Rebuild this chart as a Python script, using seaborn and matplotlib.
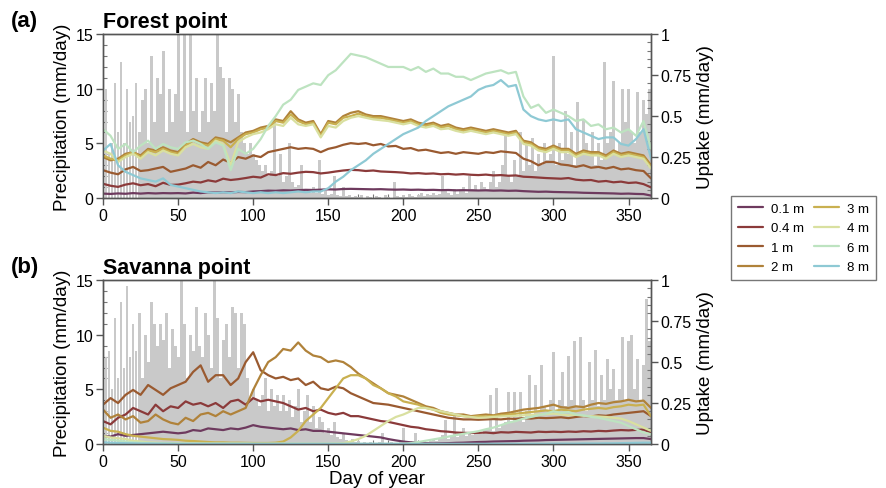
import numpy as np
import pandas as pd
import matplotlib
matplotlib.use("Agg")
import matplotlib.pyplot as plt
from matplotlib.lines import Line2D
from matplotlib.ticker import MultipleLocator, FuncFormatter
import seaborn as sns

# days for uptake series (every 5 days) and precipitation (every 2 days)
line_days = np.arange(0, 366, 5)
rain_days = np.arange(0, 365, 2)

depths = ["0.1 m", "0.4 m", "1 m", "2 m", "3 m", "4 m", "6 m", "8 m"]
depth_colors = ["#6e3a5e", "#8b3a3a", "#9a5a30", "#b0823a",
                "#c9b050", "#d9e0a0", "#bde3c0", "#8ec9d4"]

# ---- forest point: uptake (mm/day) ----
forest_01 = [0.027, 0.025, 0.028, 0.026, 0.03, 0.027, 0.03, 0.028, 0.03, 0.029,
             0.03, 0.028, 0.033, 0.03, 0.035, 0.033, 0.036, 0.034, 0.037, 0.036,
             0.04, 0.042, 0.045, 0.044, 0.047, 0.046, 0.048, 0.05, 0.049, 0.051,
             0.053, 0.052, 0.055, 0.056, 0.055, 0.054, 0.053, 0.054, 0.052, 0.051,
             0.052, 0.05, 0.051, 0.049, 0.05, 0.048, 0.049, 0.047, 0.048, 0.047,
             0.046, 0.047, 0.045, 0.046, 0.044, 0.045, 0.042, 0.04, 0.038, 0.039,
             0.037, 0.036, 0.035, 0.034, 0.032, 0.031, 0.03, 0.029, 0.028, 0.026,
             0.027, 0.025, 0.024, 0.015]
forest_04 = [0.087, 0.075, 0.068, 0.082, 0.09, 0.078, 0.085, 0.072, 0.093, 0.08,
             0.082, 0.09, 0.1, 0.095, 0.108, 0.1, 0.118, 0.11, 0.115, 0.122,
             0.13, 0.125, 0.145, 0.14, 0.152, 0.148, 0.155, 0.16, 0.158, 0.15,
             0.155, 0.162, 0.168, 0.172, 0.17, 0.165, 0.168, 0.162, 0.16, 0.158,
             0.155, 0.15, 0.152, 0.148, 0.15, 0.145, 0.147, 0.143, 0.146, 0.142,
             0.14, 0.143, 0.138, 0.14, 0.136, 0.138, 0.13, 0.128, 0.125, 0.122,
             0.12, 0.118, 0.122, 0.112, 0.108, 0.11, 0.1, 0.104, 0.096, 0.1,
             0.092, 0.095, 0.085, 0.065]
forest_1 = [0.17, 0.155, 0.145, 0.175, 0.19, 0.165, 0.17, 0.18, 0.19, 0.16,
            0.17, 0.18, 0.2, 0.185, 0.22, 0.2, 0.235, 0.215, 0.25, 0.24,
            0.26, 0.25, 0.28, 0.29, 0.3, 0.31, 0.3, 0.305, 0.3, 0.28,
            0.3, 0.31, 0.325, 0.335, 0.33, 0.335, 0.322, 0.33, 0.315, 0.318,
            0.3, 0.305, 0.29, 0.295, 0.285, 0.275, 0.28, 0.27, 0.28, 0.275,
            0.27, 0.28, 0.275, 0.285, 0.28, 0.275, 0.24, 0.225, 0.2, 0.22,
            0.22, 0.205, 0.2, 0.19, 0.2, 0.185, 0.19, 0.18, 0.19, 0.175,
            0.18, 0.17, 0.165, 0.12]
forest_2 = [0.25, 0.23, 0.24, 0.27, 0.28, 0.26, 0.3, 0.29, 0.31, 0.29,
            0.28, 0.33, 0.36, 0.34, 0.33, 0.37, 0.36, 0.34, 0.37, 0.4,
            0.41, 0.43, 0.44, 0.48, 0.47, 0.53, 0.48, 0.46, 0.47, 0.39,
            0.47, 0.46, 0.5, 0.52, 0.53, 0.51, 0.5, 0.5, 0.49, 0.48,
            0.47, 0.48, 0.46, 0.45, 0.46, 0.44, 0.45, 0.43, 0.42, 0.43,
            0.42, 0.41, 0.42, 0.41, 0.4, 0.41, 0.35, 0.34, 0.31, 0.3,
            0.32, 0.3, 0.3, 0.27, 0.29, 0.28, 0.28, 0.26, 0.29, 0.27,
            0.28, 0.27, 0.26, 0.2]
forest_3 = [0.26, 0.24, 0.23, 0.26, 0.28, 0.25, 0.29, 0.28, 0.3, 0.28,
            0.27, 0.32, 0.35, 0.33, 0.32, 0.36, 0.35, 0.31, 0.36, 0.39,
            0.4, 0.42, 0.43, 0.47, 0.46, 0.51, 0.47, 0.45, 0.46, 0.38,
            0.46, 0.45, 0.49, 0.5, 0.515, 0.5, 0.49, 0.49, 0.48, 0.47,
            0.46, 0.47, 0.45, 0.44, 0.45, 0.43, 0.44, 0.42, 0.41, 0.42,
            0.41, 0.4, 0.41, 0.4, 0.39, 0.4, 0.34, 0.33, 0.3, 0.29,
            0.31, 0.29, 0.29, 0.26, 0.28, 0.27, 0.27, 0.25, 0.28, 0.26,
            0.27, 0.26, 0.25, 0.19]
forest_4 = [0.29, 0.27, 0.22, 0.25, 0.27, 0.24, 0.28, 0.26, 0.29, 0.27,
            0.26, 0.31, 0.33, 0.31, 0.3, 0.35, 0.33, 0.2, 0.34, 0.37,
            0.39, 0.4, 0.42, 0.45, 0.44, 0.49, 0.45, 0.44, 0.45, 0.37,
            0.44, 0.43, 0.47, 0.49, 0.5, 0.49, 0.48, 0.475, 0.47, 0.46,
            0.45, 0.46, 0.44, 0.43, 0.44, 0.42, 0.425, 0.41, 0.4, 0.41,
            0.4, 0.39, 0.4, 0.39, 0.38, 0.39, 0.33, 0.32, 0.29, 0.28,
            0.3, 0.28, 0.28, 0.25, 0.27, 0.26, 0.26, 0.24, 0.27, 0.25,
            0.26, 0.25, 0.24, 0.18]
forest_6 = [0.42, 0.38, 0.3, 0.33, 0.28, 0.32, 0.35, 0.3, 0.33, 0.31,
            0.3, 0.34, 0.35, 0.33, 0.3, 0.34, 0.32, 0.17, 0.3, 0.27,
            0.3, 0.36, 0.44, 0.5, 0.57, 0.6, 0.66, 0.68, 0.7, 0.69,
            0.75, 0.78, 0.83, 0.88, 0.87, 0.86, 0.84, 0.82, 0.8, 0.8,
            0.8, 0.78, 0.8, 0.77, 0.79, 0.76, 0.76, 0.74, 0.74, 0.72,
            0.74, 0.76, 0.77, 0.78, 0.76, 0.77, 0.62, 0.55, 0.57, 0.52,
            0.54, 0.52, 0.5, 0.47, 0.48, 0.44, 0.45, 0.42, 0.43, 0.4,
            0.42, 0.38, 0.47, 0.3]
forest_8 = [0.29, 0.33, 0.2, 0.16, 0.14, 0.12, 0.11, 0.1, 0.12, 0.08,
            0.07, 0.06, 0.05, 0.04, 0.035, 0.03, 0.035, 0.03, 0.04, 0.035,
            0.03, 0.035, 0.03, 0.035, 0.03, 0.035, 0.04, 0.035, 0.04, 0.04,
            0.06, 0.1, 0.13, 0.17, 0.2, 0.23, 0.27, 0.3, 0.33, 0.36,
            0.39, 0.41, 0.43, 0.47, 0.5, 0.53, 0.56, 0.58, 0.6, 0.62,
            0.66, 0.68, 0.69, 0.72, 0.68, 0.69, 0.54, 0.5, 0.48, 0.47,
            0.48, 0.47, 0.48, 0.42, 0.4, 0.38, 0.36, 0.37, 0.37, 0.33,
            0.32, 0.36, 0.42, 0.24]

# ---- savanna point: uptake (mm/day) ----
savanna_01 = [0.05, 0.045, 0.06, 0.05, 0.055, 0.06, 0.065, 0.07, 0.075, 0.07,
              0.065, 0.07, 0.085, 0.08, 0.095, 0.09, 0.085, 0.095, 0.09, 0.1,
              0.115, 0.105, 0.1, 0.095, 0.09, 0.095, 0.085, 0.09, 0.08, 0.08,
              0.075, 0.07, 0.065, 0.06, 0.055, 0.05, 0.045, 0.04, 0.03, 0.022,
              0.015, 0.01, 0.005, 0.004, 0.003, 0.004, 0.005, 0.007, 0.008, 0.01,
              0.012, 0.013, 0.015, 0.016, 0.017, 0.018, 0.02, 0.021, 0.022, 0.024,
              0.025, 0.026, 0.027, 0.028, 0.029, 0.03, 0.031, 0.032, 0.033, 0.034,
              0.035, 0.036, 0.036, 0.03]
savanna_04 = [0.14, 0.12, 0.16, 0.18, 0.22, 0.2, 0.18, 0.24, 0.2, 0.23,
              0.22, 0.26, 0.24, 0.25, 0.23, 0.25, 0.22, 0.26, 0.27, 0.24,
              0.28, 0.26, 0.27, 0.26, 0.25, 0.23, 0.21, 0.22, 0.2, 0.21,
              0.19, 0.18, 0.19, 0.17, 0.17, 0.16, 0.15, 0.14, 0.135, 0.125,
              0.115, 0.105, 0.1, 0.09, 0.085, 0.078, 0.075, 0.07, 0.068, 0.067,
              0.068, 0.07, 0.066, 0.072, 0.07, 0.074, 0.072, 0.07, 0.075, 0.073,
              0.075, 0.073, 0.076, 0.074, 0.078, 0.076, 0.08, 0.078, 0.082, 0.085,
              0.083, 0.086, 0.088, 0.07]
savanna_1 = [0.24, 0.28, 0.25, 0.3, 0.33, 0.3, 0.36, 0.33, 0.3, 0.34,
             0.36, 0.38, 0.44, 0.48, 0.38, 0.42, 0.42, 0.36, 0.4, 0.5,
             0.56, 0.45, 0.42, 0.4, 0.41, 0.39, 0.4, 0.36, 0.38, 0.34,
             0.33, 0.35, 0.34, 0.31, 0.29, 0.27, 0.25, 0.245, 0.24, 0.23,
             0.22, 0.21, 0.2, 0.19, 0.18, 0.17, 0.16, 0.155, 0.15, 0.15,
             0.148, 0.15, 0.152, 0.15, 0.155, 0.153, 0.158, 0.155, 0.16, 0.158,
             0.16, 0.163, 0.158, 0.165, 0.17, 0.168, 0.175, 0.172, 0.18, 0.185,
             0.19, 0.195, 0.2, 0.17]
savanna_2 = [0.21, 0.16, 0.18, 0.15, 0.17, 0.13, 0.14, 0.18, 0.15, 0.13,
             0.12, 0.16, 0.14, 0.18, 0.19, 0.17, 0.2, 0.18, 0.2, 0.22,
             0.33, 0.42, 0.5, 0.53, 0.58, 0.57, 0.62, 0.57, 0.54, 0.53,
             0.5, 0.51, 0.5, 0.47, 0.43, 0.4, 0.37, 0.34, 0.31, 0.3,
             0.29, 0.27, 0.25, 0.23, 0.22, 0.2, 0.19, 0.18, 0.18, 0.17,
             0.175, 0.18, 0.175, 0.185, 0.19, 0.2, 0.21, 0.215, 0.22, 0.23,
             0.24, 0.225, 0.22, 0.23, 0.225, 0.24, 0.25, 0.245, 0.255, 0.26,
             0.27, 0.26, 0.265, 0.22]
savanna_3 = [0.1, 0.08, 0.075, 0.06, 0.05, 0.045, 0.04, 0.035, 0.03, 0.028,
             0.025, 0.02, 0.018, 0.015, 0.012, 0.01, 0.01, 0.008, 0.008, 0.007,
             0.006, 0.006, 0.006, 0.008, 0.015, 0.04, 0.08, 0.14, 0.18, 0.22,
             0.28, 0.34, 0.4, 0.42, 0.42, 0.4, 0.36, 0.34, 0.31, 0.29,
             0.26, 0.25, 0.24, 0.22, 0.21, 0.19, 0.18, 0.175, 0.17, 0.165,
             0.17, 0.168, 0.172, 0.175, 0.18, 0.185, 0.19, 0.195, 0.2, 0.205,
             0.2, 0.21, 0.205, 0.2, 0.21, 0.215, 0.22, 0.215, 0.225, 0.23,
             0.24, 0.235, 0.24, 0.17]
savanna_4 = [0.05, 0.04, 0.035, 0.03, 0.02, 0.015, 0.01, 0.008, 0.006, 0.005,
             0.004, 0.003, 0.003, 0.002, 0.002, 0.002, 0.002, 0.002, 0.002, 0.002,
             0.002, 0.002, 0.002, 0.002, 0.002, 0.002, 0.002, 0.002, 0.002, 0.002,
             0.002, 0.003, 0.005, 0.015, 0.03, 0.05, 0.08, 0.11, 0.14, 0.165,
             0.18, 0.2, 0.22, 0.22, 0.21, 0.2, 0.19, 0.18, 0.17, 0.165,
             0.16, 0.162, 0.165, 0.168, 0.17, 0.172, 0.175, 0.178, 0.18, 0.182,
             0.185, 0.18, 0.175, 0.178, 0.172, 0.17, 0.168, 0.165, 0.16, 0.155,
             0.14, 0.12, 0.1, 0.08]
savanna_6 = [0.03, 0.025, 0.02, 0.015, 0.01, 0.008, 0.006, 0.005, 0.004, 0.003,
             0.002, 0.002, 0.002, 0.002, 0.002, 0.002, 0.002, 0.002, 0.002, 0.002,
             0.001, 0.001, 0.001, 0.001, 0.001, 0.001, 0.001, 0.001, 0.001, 0.001,
             0.001, 0.001, 0.001, 0.001, 0.001, 0.001, 0.001, 0.001, 0.001, 0.001,
             0.002, 0.005, 0.012, 0.02, 0.028, 0.036, 0.045, 0.054, 0.062, 0.07,
             0.078, 0.09, 0.1, 0.115, 0.13, 0.14, 0.155, 0.165, 0.175, 0.185,
             0.2, 0.19, 0.195, 0.18, 0.175, 0.165, 0.16, 0.15, 0.14, 0.13,
             0.11, 0.09, 0.07, 0.06]
savanna_8 = [0.01, 0.008, 0.006, 0.005, 0.004, 0.003, 0.003, 0.002, 0.002, 0.002,
             0.001, 0.001, 0.001, 0.001, 0.001, 0.001, 0.001, 0.001, 0.001, 0.001,
             0.001, 0.001, 0.001, 0.001, 0.001, 0.001, 0.001, 0.001, 0.001, 0.001,
             0.001, 0.001, 0.001, 0.001, 0.001, 0.001, 0.001, 0.001, 0.001, 0.001,
             0.001, 0.001, 0.001, 0.001, 0.001, 0.001, 0.001, 0.001, 0.001, 0.001,
             0.001, 0.001, 0.001, 0.001, 0.001, 0.001, 0.001, 0.001, 0.001, 0.001,
             0.002, 0.002, 0.002, 0.002, 0.003, 0.003, 0.003, 0.004, 0.004, 0.005,
             0.006, 0.007, 0.008, 0.008]

# ---- precipitation (mm/day), every second day ----
forest_rain = [6, 10, 4, 5, 10.5, 6, 12.5, 5, 10, 7,
               7.5, 10.5, 6, 9, 10, 5, 13, 7, 11, 9.5,
               13.5, 6, 10, 7, 9.5, 15, 8, 15, 6, 15,
               8, 11, 6, 8, 11, 7, 10.5, 8, 15, 12,
               11, 6, 11, 10, 7, 9.5, 6, 5, 4, 5,
               4, 3.5, 3, 2.5, 3, 2, 2.5, 7, 2, 4,
               1.5, 2, 5, 1.5, 1, 1.2, 3, 0.8, 0.6, 0.5,
               1, 0.5, 3.5, 0.4, 0.6, 0.3, 0.4, 2, 0.3, 0.2,
               1, 0.2, 0.3, 0.1, 0.2, 0.1, 0.3, 0, 0.2, 0.1,
               0, 0.2, 0.1, 0, 0.3, 0.1, 0, 1.5, 0.2, 0.1,
               0.3, 0.1, 0.4, 0.2, 0.1, 0.3, 0.5, 0.2, 0.4, 0.3,
               0.5, 0.3, 0.4, 2, 0.6, 0.5, 0.3, 0.8, 0.4, 0.6,
               1, 0.5, 2, 0.8, 1.2, 0.6, 1.5, 1, 0.8, 1.5,
               2.5, 1, 1.5, 3, 6, 2, 1.5, 3.5, 2, 6,
               2.5, 5, 3, 5.5, 2.5, 4, 3, 5, 3.5, 4,
               13, 3, 5, 3.5, 8, 4, 6, 3, 8.8, 4,
               7.2, 5, 4, 6, 3, 5, 3.5, 12.5, 5, 6,
               10.7, 4, 5, 10, 7, 10, 6, 5, 9.7, 6,
               9, 7.7, 10]
savanna_rain = [7, 8, 8.5, 5, 11.5, 6, 13, 7, 14.5, 8,
                11, 8.5, 12, 6, 10, 7.5, 13, 11, 9, 11,
                9.5, 12, 7, 10.5, 9, 8, 15, 11, 6, 10,
                8.5, 12.5, 9, 8, 12, 10, 7, 15, 11.5, 6,
                9.5, 11, 8, 12.5, 12, 7, 12, 11, 6, 4,
                5, 4, 3.5, 4.5, 6, 3, 5, 3.5, 4.5, 3,
                4.5, 3, 4, 2.5, 3.5, 5, 2, 3, 4.5, 2,
                3.5, 1.5, 2.5, 2, 1, 1.5, 0.8, 2, 0.6, 0.5,
                1, 0.4, 0.3, 0.5, 0.2, 0.3, 0.1, 0.2, 0.1, 0.2,
                0.1, 0, 0.2, 1, 0.1, 0, 0.2, 0.1, 0, 0.3,
                1.5, 0.2, 0.1, 0.3, 1, 0.2, 0.1, 0.4, 0.2, 0.3,
                0.4, 0.3, 0.5, 0.8, 2.2, 0.5, 0.7, 2.7, 0.6, 0.8,
                1.5, 0.7, 1, 0.8, 1.2, 1, 0.9, 1.3, 1.5, 4.5,
                1.2, 5.1, 1.5, 1.8, 2, 4.8, 2, 4.8, 2.5, 4.8,
                2, 3, 6.3, 2.5, 5.4, 3, 7.2, 3.5, 3, 4,
                8.4, 3, 4, 6.6, 3.5, 8.1, 4, 9.4, 3.5, 9.8,
                4, 3, 7.5, 4, 8.6, 3.5, 6.3, 4, 7.8, 5,
                6.9, 4, 5, 9.8, 4, 9.4, 10, 5, 7.8, 4,
                7.2, 13.3, 9.4]

forest_lines = [forest_01, forest_04, forest_1, forest_2,
                forest_3, forest_4, forest_6, forest_8]
savanna_lines = [savanna_01, savanna_04, savanna_1, savanna_2,
                 savanna_3, savanna_4, savanna_6, savanna_8]

sns.set_theme(style="ticks")
plt.rcParams["font.family"] = ["Liberation Sans", "DejaVu Sans"]
plt.rcParams["axes.edgecolor"] = "#555555"
plt.rcParams["axes.linewidth"] = 1.0
plt.rcParams["text.color"] = "black"
plt.rcParams["axes.labelcolor"] = "black"


def to_long(series):
    frames = []
    for name, vals in zip(depths, series):
        frames.append(pd.DataFrame({"day": line_days, "uptake": vals, "depth": name}))
    return pd.concat(frames, ignore_index=True)


def style_axes(ax, ax2):
    ax.set_xlim(0, 365)
    ax.set_ylim(0, 15)
    ax2.set_ylim(0, 1)
    ax.xaxis.set_major_locator(MultipleLocator(50))
    ax.xaxis.set_minor_locator(MultipleLocator(10))
    ax.yaxis.set_major_locator(MultipleLocator(5))
    ax.yaxis.set_minor_locator(MultipleLocator(1))
    ax2.yaxis.set_major_locator(MultipleLocator(0.25))
    ax2.yaxis.set_minor_locator(MultipleLocator(0.05))
    ax2.yaxis.set_major_formatter(FuncFormatter(lambda v, p: "%g" % v))
    for a in (ax, ax2):
        a.tick_params(which="major", direction="out", length=5, width=1,
                      labelsize=11.5, color="#555555", labelcolor="black", pad=2)
        a.tick_params(which="minor", direction="in", length=3, width=0.8,
                      color="#777777")
    ax.tick_params(axis="y", which="both", right=False)
    ax.tick_params(axis="x", which="both", top=False)
    ax2.tick_params(axis="y", which="both", left=False)
    ax.set_ylabel("Precipitation (mm/day)", fontsize=13.5, labelpad=3)
    ax2.set_ylabel("Uptake (mm/day)", fontsize=13.5, labelpad=4)
    for s in ax2.spines.values():
        s.set_color("#555555")


fig = plt.figure(figsize=(8.86, 4.89), dpi=100)
panels = [
    (fig.add_axes([0.1163, 0.593, 0.6185, 0.335]), forest_rain, forest_lines, "Forest point", "(a)"),
    (fig.add_axes([0.1163, 0.090, 0.6185, 0.335]), savanna_rain, savanna_lines, "Savanna point", "(b)"),
]

for ax, rain, lines, title, letter in panels:
    ax.bar(rain_days, rain, width=1.9, color="#c9c9c9", linewidth=0, zorder=1)
    ax2 = ax.twinx()
    sns.lineplot(data=to_long(lines), x="day", y="uptake", hue="depth",
                 hue_order=depths, palette=depth_colors, linewidth=1.6,
                 legend=False, ax=ax2)
    style_axes(ax, ax2)
    ax.set_xlabel("")
    ax.set_title(title, loc="left", fontsize=15.5, fontweight="bold", pad=5)
    pos = ax.get_position()
    fig.text(0.012, pos.y1 + 0.028, letter, fontsize=16, fontweight="bold",
             ha="left", va="center")

panels[1][0].set_xlabel("Day of year", fontsize=13.5, labelpad=1)

handles = [Line2D([0], [0], color=c, lw=1.6) for c in depth_colors]
leg = fig.legend(handles, depths, ncol=2, loc="upper left",
                 bbox_to_anchor=(731 / 886, 1 - 197 / 489),
                 frameon=True, fancybox=False, edgecolor="#555555",
                 fontsize=9.5, handlelength=1.9, handletextpad=0.6,
                 columnspacing=0.8, labelspacing=0.55, borderpad=0.5,
                 borderaxespad=0)
leg.get_frame().set_linewidth(1.0)

fig.savefig("out.png", dpi=100)
